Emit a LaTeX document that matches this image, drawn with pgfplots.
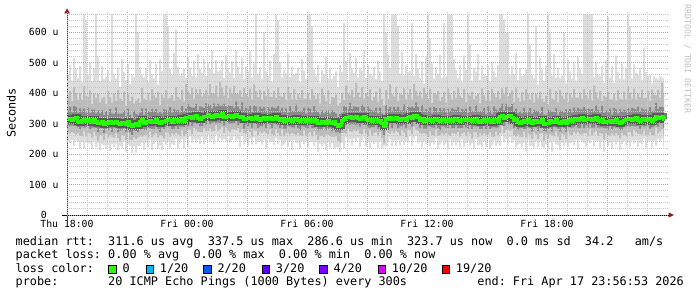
\documentclass[border=0pt]{standalone}
\usepackage{fontspec}
\setmonofont{DejaVu Sans Mono}
\usepackage{pgfplots}
\usepackage{pgfplotstable}
\pgfplotsset{compat=1.18}
\usepgfplotslibrary{fillbetween}
\definecolor{smokeA}{HTML}{DDDDDD}
\definecolor{smokeB}{HTML}{BBBBBB}
\definecolor{smokeC}{HTML}{8A8A8A}
\definecolor{smokeD}{HTML}{4A4A4A}
\definecolor{medgreen}{HTML}{26FF00}
\definecolor{mgrid}{HTML}{EE8E8E}
\definecolor{ngrid}{HTML}{C8C8C8}
\definecolor{arrowred}{HTML}{8B1A1A}
\definecolor{yaxis}{HTML}{5C3B3B}
\definecolor{lc1}{HTML}{00B8FF}
\definecolor{lc2}{HTML}{0059FF}
\definecolor{lc3}{HTML}{5E00FF}
\definecolor{lc4}{HTML}{7E00FF}
\definecolor{lc10}{HTML}{DD00FF}
\definecolor{lc19}{HTML}{FF0000}
\newcommand\legfont{\ttfamily\fontsize{11.82bp}{13.5bp}\selectfont\frenchspacing}
\newcommand\tickfont{\ttfamily\fontsize{9.8bp}{11bp}\selectfont\frenchspacing}

\pgfplotstableread{
h mn lo2 lo3 med hi3 hi2 mx
0.0 244 272 294 314 344 389 464
0.1 236 268 292 318 356 408 493
0.2 247 273 294 311 337 373 441
0.3 226 269 293 316 358 421 516
0.4 245 265 292 320 354 400 480
0.5 240 268 289 308 336 378 448
0.6 219 260 281 305 350 400 490
0.7 239 259 291 311 343 377 436
0.8 218 277 287 313 349 423 660
0.9 240 258 289 306 336 391 640
1.0 235 271 292 315 353 387 460
1.1 235 267 281 309 335 409 499
1.2 216 254 285 304 346 364 439
1.3 242 274 288 312 346 400 482
1.4 224 259 286 306 334 384 660
1.5 235 244 273 299 344 397 519
1.6 212 262 285 302 334 370 440
1.7 233 263 285 308 344 383 488
1.8 230 246 270 298 328 388 446
1.9 217 267 284 303 341 365 453
2.0 230 254 278 302 328 407 477
2.1 211 262 286 306 348 386 436
2.2 233 257 273 299 333 369 660
2.3 224 254 287 304 332 399 464
2.4 234 270 285 308 353 374 448
2.5 212 253 272 300 332 410 485
2.6 227 242 278 297 333 382 422
2.7 221 263 279 303 333 375 513
2.8 241 260 285 305 343 405 470
2.9 208 246 272 298 324 358 443
3.0 232 271 290 307 349 395 497
3.1 227 247 272 295 329 373 430
3.2 204 246 262 290 318 388 460
3.3 226 256 279 298 343 366 453
3.4 205 250 276 300 332 375 660
3.5 227 255 273 293 329 383 600
3.6 226 259 280 306 336 368 486
3.7 238 257 295 312 350 417 460
3.8 214 262 279 302 328 382 452
3.9 237 262 279 307 349 377 482
4.0 224 254 287 306 340 401 436
4.1 246 274 286 310 338 376 510
4.2 213 255 283 303 348 413 463
4.3 233 264 282 308 340 393 448
4.4 244 270 295 312 348 384 497
4.5 218 254 281 304 334 404 429
4.6 229 263 273 301 339 361 511
4.7 212 260 288 307 333 395 472
4.8 240 251 282 306 348 384 660
4.9 231 271 291 311 345 409 660
5.0 241 270 289 315 343 383 620
5.1 221 257 292 309 354 384 479
5.2 234 268 281 304 336 394 459
5.3 230 264 284 312 348 374 532
5.4 250 270 295 314 344 419 610
5.5 217 265 283 307 345 387 487
5.6 235 260 290 310 336 380 458
5.7 248 278 290 316 358 411 466
5.8 220 259 289 306 340 372 481
5.9 249 266 298 321 349 431 451
6.0 225 280 292 320 365 405 520
6.1 258 279 305 324 356 396 484
6.2 237 265 293 317 353 417 457
6.3 248 286 302 322 352 382 507
6.4 238 278 300 326 364 414 451
6.5 248 274 301 318 344 396 528
6.6 233 273 292 315 357 413 480
6.7 257 271 293 321 355 389 466
6.8 233 285 304 323 351 398 513
6.9 247 275 298 322 367 412 457
7.0 263 276 311 331 363 393 501
7.1 239 285 299 325 361 430 480
7.2 248 275 303 320 350 400 540
7.3 233 276 305 328 366 398 466
7.4 264 294 302 330 356 425 510
7.5 243 275 304 323 365 389 471
7.6 252 282 302 326 360 436 476
7.7 244 290 312 332 360 417 507
7.8 250 270 294 320 365 392 450
7.9 243 287 308 325 357 425 525
8.0 260 277 301 324 360 384 484
8.1 238 273 300 328 358 416 468
8.2 246 281 302 321 359 399 506
8.3 258 281 302 326 352 424 451
8.4 244 278 310 330 372 398 540
8.5 250 286 296 322 356 397 487
8.6 224 271 302 319 347 409 464
8.7 259 281 302 325 370 387 515
8.8 232 270 284 312 344 417 447
8.9 243 267 298 317 353 397 487
9.0 228 278 292 316 346 386 471
9.1 250 273 300 320 358 415 540
9.2 231 258 287 313 339 379 451
9.3 254 278 301 318 360 428 498
9.4 232 277 299 322 356 407 660
9.5 239 262 286 314 342 386 464
9.6 243 275 292 311 356 411 486
9.7 231 269 293 317 349 377 447
9.8 247 275 299 319 355 407 600
9.9 217 270 286 312 342 390 472
10.0 250 266 299 316 354 414 456
10.1 240 282 297 320 346 388 505
10.2 239 266 285 313 355 388 438
10.3 230 263 299 318 352 408 528
10.4 252 282 298 322 350 384 660
10.5 232 269 294 314 359 419 640
10.6 247 259 285 311 343 391 501
10.7 227 281 300 317 353 387 452
10.8 232 259 284 307 337 402 477
10.9 244 268 284 312 350 378 467
11.0 225 269 292 311 337 421 531
11.1 243 265 291 315 357 400 453
11.2 213 270 288 308 342 380 488
11.3 247 266 287 313 341 413 461
11.4 237 262 300 317 362 377 467
11.5 235 269 286 309 341 397 484
11.6 218 261 278 306 342 384 436
11.7 242 260 293 312 342 410 512
11.8 232 278 290 314 352 382 474
11.9 243 259 287 307 333 382 447
12.0 221 267 285 311 353 401 660
12.1 240 273 298 315 349 377 660
12.2 240 258 285 308 336 413 620
12.3 227 275 285 313 358 393 478
12.4 239 264 292 311 343 381 456
12.5 207 247 278 302 338 397 492
12.6 234 260 280 300 330 366 435
12.7 226 261 280 306 344 416 476
12.8 234 256 291 308 334 393 463
12.9 213 265 278 301 343 373 521
13.0 240 262 282 310 344 410 448
13.1 222 260 285 304 332 364 484
13.2 235 257 275 299 344 387 447
13.3 217 257 287 307 339 385 457
13.4 222 259 271 297 333 395 472
13.5 222 243 273 290 320 358 420
13.6 207 238 270 293 331 368 493
13.7 238 270 282 310 336 400 470
13.8 220 270 296 315 357 377 630
13.9 254 268 296 320 354 425 505
14.0 239 283 299 319 347 399 444
14.1 249 275 297 323 368 393 533
14.2 228 272 299 316 348 411 481
14.3 251 279 298 321 357 387 466
14.4 243 275 297 325 355 435 515
14.5 253 279 298 317 355 402 452
14.6 224 267 290 314 340 386 484
14.7 245 265 300 320 362 420 475
14.8 254 282 296 322 356 382 542
14.9 226 267 295 312 340 400 450
15.0 239 259 288 311 356 389 491
15.1 220 279 287 315 347 413 463
15.2 242 260 289 308 344 376 458
15.3 233 269 289 313 343 388 488
15.4 241 273 295 315 353 405 445
15.5 220 258 282 308 334 370 508
15.6 241 273 294 311 353 416 471
15.7 218 253 277 300 334 380 440
15.8 226 235 262 290 318 360 660
15.9 226 276 297 316 361 411 600
16.0 240 270 291 315 347 381 525
16.1 251 267 299 319 355 429 484
16.2 226 276 286 312 342 397 660
16.3 245 269 300 317 355 389 660
16.4 226 277 298 321 347 421 660
16.5 247 271 285 313 355 373 620
16.6 230 260 291 310 344 398 465
16.7 242 278 292 316 344 394 536
16.8 230 271 298 318 363 416 456
16.9 241 256 285 311 343 379 491
17.0 238 280 303 320 356 395 468
17.1 259 278 300 323 353 413 473
17.2 228 266 290 318 356 380 630
17.3 251 290 307 326 352 431 456
17.4 260 280 304 328 370 408 528
17.5 235 277 301 321 355 391 481
17.6 239 269 285 311 339 406 451
17.7 222 267 300 317 362 383 502
17.8 241 269 284 307 339 417 432
17.9 232 265 284 312 348 397 522
18.0 237 256 292 311 341 383 660
18.1 227 275 291 315 353 415 580
18.2 238 263 288 308 334 368 498
18.3 231 261 287 313 355 401 448
18.4 253 281 300 317 351 395 487
18.5 219 261 286 309 337 407 464
18.6 231 262 278 306 351 374 526
18.7 244 270 293 312 344 387 450
18.8 228 264 290 314 350 404 630
18.9 235 269 287 307 337 369 455
19.0 216 264 285 311 349 416 660
19.1 249 260 298 315 341 395 660
19.2 228 268 285 308 350 378 660
19.3 239 268 285 313 347 408 513
19.4 229 265 298 317 345 383 477
19.5 239 273 285 309 354 419 449
19.6 224 258 286 306 338 391 491
19.7 248 268 286 312 348 384 437
19.8 224 272 297 314 344 414 524
19.9 236 261 288 311 349 371 476
20.0 242 272 282 310 336 398 660
20.1 228 267 295 314 356 392 560
20.2 235 252 283 307 341 405 442
20.3 217 272 292 312 340 380 482
20.4 250 271 290 316 361 391 471
20.5 228 256 291 308 340 398 528
20.6 231 269 282 305 341 367 443
20.7 223 263 283 311 341 416 491
20.8 243 269 294 313 351 393 461
20.9 224 264 282 306 332 376 456
21.0 251 265 295 315 357 410 490
21.1 219 271 283 309 343 375 439
21.2 229 257 287 304 332 414 504
21.3 244 257 289 312 357 397 472
21.4 228 274 286 314 346 386 454
21.5 235 262 288 307 343 407 492
21.6 227 270 298 322 352 382 660
21.7 262 292 308 328 366 416 660
21.8 238 270 292 318 344 396 640
21.9 249 279 306 323 365 421 600
22.0 234 280 299 322 356 390 600
22.1 256 276 298 326 354 401 461
22.2 237 281 300 319 364 409 489
22.3 245 262 285 309 341 371 464
22.4 223 258 293 313 349 418 533
22.5 230 265 279 305 335 385 443
22.6 234 257 285 302 340 372 482
22.7 222 256 285 308 334 403 456
22.8 238 274 282 310 352 376 460
22.9 208 255 284 303 337 413 478
23.0 246 268 288 312 340 397 660
23.1 226 264 286 306 351 378 560
23.2 227 251 275 301 333 401 461
23.3 221 271 292 309 345 369 449
23.4 241 264 288 311 341 399 620
23.5 222 249 276 304 342 382 429
23.6 243 267 288 307 333 405 517
23.7 223 268 289 313 355 381 478
23.8 221 244 276 296 330 371 441
23.9 233 265 275 301 329 391 491
24.0 214 252 283 300 345 362 660
24.1 238 266 287 310 342 415 600
24.2 208 261 275 303 339 383 458
24.3 242 258 289 308 338 378 528
24.4 232 274 288 312 350 407 450
24.5 230 257 284 304 330 370 484
24.6 213 246 275 301 343 411 449
24.7 237 267 290 307 341 392 457
24.8 227 264 286 309 337 381 600
24.9 238 250 274 302 347 402 432
25.0 221 275 292 311 343 371 511
25.1 237 264 288 312 348 400 472
25.2 239 263 287 307 337 385 447
25.3 229 273 289 315 353 413 500
25.4 245 267 300 317 343 385 442
25.5 215 272 287 310 352 385 520
25.6 247 266 285 313 347 403 478
25.7 239 264 300 319 347 381 464
25.8 235 269 285 309 354 414 660
25.9 226 269 294 314 346 394 660
26.0 243 261 287 313 349 383 660
26.1 235 281 300 317 347 412 660
26.2 246 262 287 310 348 376 660
26.3 225 271 287 315 341 425 453
26.4 244 277 300 319 361 404 499
26.5 243 261 287 311 345 383 459
26.6 222 270 288 308 336 408 458
26.7 242 267 288 314 359 374 489
26.8 208 248 286 303 335 391 433
26.9 242 268 285 308 344 386 508
27.0 227 262 279 307 337 405 650
27.1 237 259 292 311 349 379 451
27.2 216 268 280 304 330 379 489
27.3 239 261 289 309 351 399 434
27.4 231 269 287 313 347 375 523
27.5 241 263 288 305 333 410 470
27.6 212 252 279 302 347 382 447
27.7 233 270 280 308 340 378 498
27.8 242 263 291 310 346 405 445
27.9 228 259 290 314 344 380 484
28.0 241 273 293 313 351 423 660
28.1 222 272 291 317 343 402 620
28.2 244 258 293 310 352 382 448
28.3 235 279 292 315 349 415 495
28.4 245 271 291 319 347 379 467
28.5 223 267 292 311 356 399 461
28.6 238 266 284 308 340 386 483
28.7 232 264 294 314 350 412 444
28.8 252 278 290 316 346 384 550
28.9 219 262 292 309 347 384 469
29.0 243 263 295 318 344 408 458
29.1 244 272 284 312 354 374 460
29.2 221 262 288 307 341 412 432
29.3 243 263 291 315 343 395 455
29.4 228 287 303 323 368 393 450
29.5 250 268 290 316 348 411 445
29.6 239 275 302 319 355 385 456
29.7 251 283 302 325 355 435 452
29.8 227 265 287 315 353 400 448
29.85 227 265 287 315 353 400 448
}\smoke

\begin{document}
\begin{tikzpicture}
\begin{axis}[
  name=ax, at={(67bp,82bp)}, anchor=south west,
  scale only axis, width=601bp, height=203bp,
  xmin=0, xmax=30.05, ymin=0, ymax=666.7,
  axis line style={draw=none},
  axis on top,
  xtick={0,3,...,27},
  xticklabels={Thu 18:00,,Fri 00:00,,Fri 06:00,,Fri 12:00,,Fri 18:00,},
  minor xtick={1,2,4,5,7,8,10,11,13,14,16,17,19,20,22,23,25,26,28,29},
  ytick={0,100,...,600},
  yticklabels={0\phantom{~u},100 u,200 u,300 u,400 u,500 u,600 u},
  minor ytick={20,40,60,80,120,140,160,180,220,240,260,280,320,340,360,380,420,440,460,480,520,540,560,580,620,640,660},
  grid=both,
  major grid style={draw=mgrid, line width=0.9bp, dash pattern=on 1bp off 1bp},
  minor grid style={draw=ngrid, line width=0.9bp, dash pattern=on 1bp off 1bp},
  major tick length=0pt, minor tick length=0pt,
  xticklabel style={font=\tickfont, anchor=north, yshift=-1.8bp},
  yticklabel style={font=\tickfont, anchor=east, xshift=-5bp},
]
\addplot[name path=pmx, const plot, draw=none] table[x=h, y=mx] {\smoke};
\addplot[name path=pmn, const plot, draw=none] table[x=h, y=mn] {\smoke};
\addplot[fill=smokeA, draw=none] fill between[of=pmx and pmn];
\addplot[name path=phi2, const plot, draw=none] table[x=h, y=hi2] {\smoke};
\addplot[name path=plo2, const plot, draw=none] table[x=h, y=lo2] {\smoke};
\addplot[fill=smokeB, draw=none] fill between[of=phi2 and plo2];
\addplot[name path=phi3, const plot, draw=none] table[x=h, y=hi3] {\smoke};
\addplot[name path=plo3, const plot, draw=none] table[x=h, y=lo3] {\smoke};
\addplot[fill=smokeC, draw=none] fill between[of=phi3 and plo3];
\addplot[const plot, draw=smokeD, line width=7bp, opacity=0.75] table[x=h, y=med] {\smoke};
\addplot[const plot, draw=medgreen, line width=3bp] table[x=h, y=med] {\smoke};
\end{axis}
\begin{scope}[x=1bp,y=1bp]
% axes
\draw[yaxis, line width=1bp] (67,77) -- (67,284);
\fill[arrowred] (64.2,283.5) -- (70,283.5) -- (67.1,288.6) -- cycle;
\draw[black, line width=1bp] (62,82) -- (669,82);
\fill[arrowred] (668.5,79.4) -- (668.5,84.6) -- (674,82) -- cycle;
% y axis title
\node[rotate=90, anchor=base, inner sep=0, font=\legfont] at (15.5,184) {Seconds};
% watermark
\node[rotate=-90, anchor=center, inner sep=0, font=\ttfamily\fontsize{8.2bp}{9bp}\selectfont, text=black!25] at (687.5,238) {RRDTOOL / TOBI OETIKER};
% legend
\node[anchor=base west, inner sep=0, font=\legfont] at (15.5,51.8) {median rtt:~~311.6 us avg~~337.5 us max~~286.6 us min~~323.7 us now~~0.0 ms sd~~34.2~~~am/s};
\node[anchor=base west, inner sep=0, font=\legfont] at (15.5,38.3) {packet loss: 0.00 \% avg~~0.00 \% max~~0.00 \% min~~0.00 \% now};
\node[anchor=base west, inner sep=0, font=\legfont] at (15.5,24.7) {loss color:};
\filldraw[fill=medgreen, draw=black, line width=0.8bp] (108.7,24.1) rectangle (116,31.4);
\filldraw[fill=lc1, draw=black, line width=0.8bp] (146.1,24.1) rectangle (153.4,31.4);
\filldraw[fill=lc2, draw=black, line width=0.8bp] (203.7,24.1) rectangle (211,31.4);
\filldraw[fill=lc3, draw=black, line width=0.8bp] (262.1,24.1) rectangle (269.4,31.4);
\filldraw[fill=lc4, draw=black, line width=0.8bp] (319.7,24.1) rectangle (327,31.4);
\filldraw[fill=lc10, draw=black, line width=0.8bp] (378.1,24.1) rectangle (385.4,31.4);
\filldraw[fill=lc19, draw=black, line width=0.8bp] (442.1,24.1) rectangle (449.4,31.4);
\node[anchor=base west, inner sep=0, font=\legfont] at (122.3,24.7) {0};
\node[anchor=base west, inner sep=0, font=\legfont] at (159.7,24.7) {1/20};
\node[anchor=base west, inner sep=0, font=\legfont] at (217.3,24.7) {2/20};
\node[anchor=base west, inner sep=0, font=\legfont] at (275.7,24.7) {3/20};
\node[anchor=base west, inner sep=0, font=\legfont] at (333.3,24.7) {4/20};
\node[anchor=base west, inner sep=0, font=\legfont] at (391.7,24.7) {10/20};
\node[anchor=base west, inner sep=0, font=\legfont] at (455.7,24.7) {19/20};
\node[anchor=base west, inner sep=0, font=\legfont] at (15.5,11.2) {probe:~~~~~~~20 ICMP Echo Pings (1000 Bytes) every 300s};
\node[anchor=base west, inner sep=0, font=\legfont] at (477.2,11.2) {end: Fri Apr 17 23:56:53 2026};
\pgfresetboundingbox
\path[use as bounding box] (0,0) rectangle (697,297);
\end{scope}
\end{tikzpicture}
\end{document}
